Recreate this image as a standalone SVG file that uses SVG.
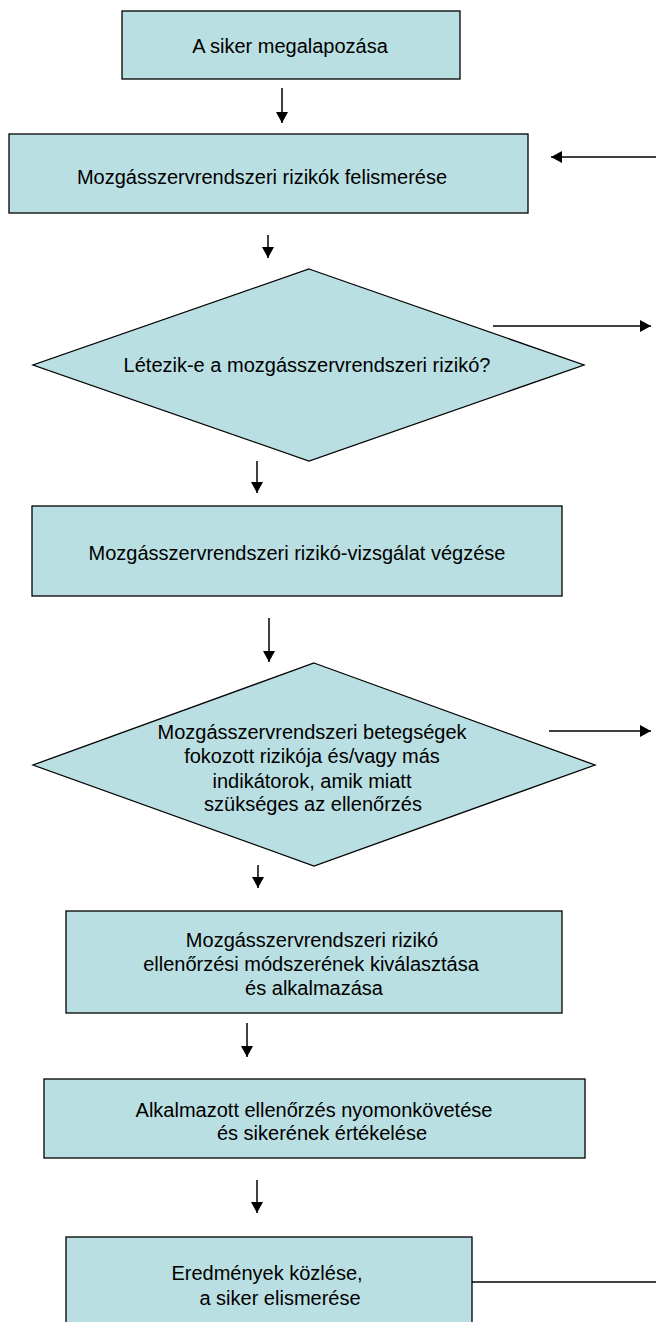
<svg xmlns="http://www.w3.org/2000/svg" width="656" height="1322" viewBox="0 0 656 1322">
<style>
.box{fill:#BADFE2;stroke:#000;stroke-width:1.3}
.t{font-family:"Liberation Sans",Arial,sans-serif;font-size:20px;fill:#000;text-anchor:middle}
.c{stroke:#000;stroke-width:1.5;fill:none}
</style>
<defs>
<marker id="ah" markerUnits="userSpaceOnUse" markerWidth="11" markerHeight="12" refX="11" refY="6" orient="auto">
<path d="M0,0 L11,6 L0,12 z" fill="#000"/>
</marker>
</defs>
<rect width="656" height="1322" fill="#fff"/>
<g id="n1"><rect class="box" x="122" y="11" width="338" height="68"/><text class="t" x="290" y="53">A siker megalapozása</text></g>
<g id="n2"><rect class="box" x="9" y="134" width="519" height="79"/><text class="t" x="262" y="184">Mozgásszervrendszeri rizikók felismerése</text></g>
<g id="n3"><polygon class="box" points="309,269 584,365 309,461 33,365"/><text class="t" x="307" y="372">Létezik-e a mozgásszervrendszeri rizikó?</text></g>
<g id="n4"><rect class="box" x="32" y="506" width="530" height="90"/><text class="t" x="297" y="560">Mozgásszervrendszeri rizikó-vizsgálat végzése</text></g>
<g id="n5"><polygon class="box" points="314,663 595,765 314,866 33,765"/><text class="t" x="312" y="739">Mozgásszervrendszeri betegségek</text><text class="t" x="312" y="763">fokozott rizikója és/vagy más</text><text class="t" x="312" y="788">indikátorok, amik miatt</text><text class="t" x="313" y="811">szükséges az ellenőrzés</text></g>
<g id="n6"><rect class="box" x="66" y="911" width="496" height="102"/><text class="t" x="312" y="947">Mozgásszervrendszeri rizikó</text><text class="t" x="311" y="971">ellenőrzési módszerének kiválasztása</text><text class="t" x="314" y="995">és alkalmazása</text></g>
<g id="n7"><rect class="box" x="44" y="1079" width="541" height="79"/><text class="t" x="314" y="1117">Alkalmazott ellenőrzés nyomonkövetése</text><text class="t" x="322" y="1140">és sikerének értékelése</text></g>
<g id="n8"><rect class="box" x="66" y="1237" width="406" height="100"/><text class="t" x="267" y="1280">Eredmények közlése,</text><text class="t" x="280" y="1305">a siker elismerése</text></g>
<g id="connectors">
<line class="c" x1="282" y1="88" x2="282" y2="123" marker-end="url(#ah)"/>
<line class="c" x1="656" y1="157" x2="551" y2="157" marker-end="url(#ah)"/>
<line class="c" x1="268" y1="235" x2="268" y2="258" marker-end="url(#ah)"/>
<line class="c" x1="493" y1="326" x2="651" y2="326" marker-end="url(#ah)"/>
<line class="c" x1="257" y1="461" x2="257" y2="493" marker-end="url(#ah)"/>
<line class="c" x1="269" y1="618" x2="269" y2="662" marker-end="url(#ah)"/>
<line class="c" x1="549" y1="731" x2="651" y2="731" marker-end="url(#ah)"/>
<line class="c" x1="258" y1="865" x2="258" y2="888" marker-end="url(#ah)"/>
<line class="c" x1="247" y1="1023" x2="247" y2="1057" marker-end="url(#ah)"/>
<line class="c" x1="257" y1="1180" x2="257" y2="1213" marker-end="url(#ah)"/>
<line class="c" x1="472" y1="1282" x2="656" y2="1282"/>
</g>
</svg>
